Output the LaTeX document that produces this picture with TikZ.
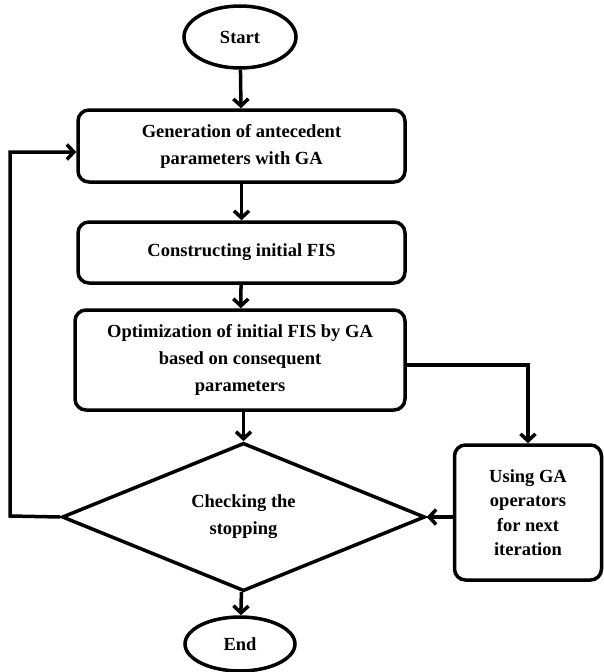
\documentclass[tikz,border=0pt]{standalone}
\usepackage{fontspec}
\setmainfont{Liberation Serif}
\usetikzlibrary{shapes.geometric,arrows.meta}
\begin{document}
\begin{tikzpicture}[x=1pt,y=-1pt,
  every node/.style={font=\fontsize{18.5}{27}\selectfont\bfseries, align=center, inner sep=0pt},
  box/.style={draw, line width=3.5pt, rounded corners=11pt},
  term/.style={draw, line width=3.5pt, ellipse},
  dec/.style={draw, line width=3.5pt, diamond},
  conn/.style={line width=3.5pt, -{Straight Barb[length=7pt,width=15pt,line width=3.5pt]}}]
\useasboundingbox (0,0) rectangle (604,672);
\node[term, minimum width=112pt, minimum height=62pt] (start) at (240,37) {Start};
\node[box, minimum width=327pt, minimum height=72pt] (b1) at (241.5,146) {Generation of antecedent\\parameters with GA};
\node[box, minimum width=327pt, minimum height=61pt] (b2) at (241.5,252.5) {Constructing initial FIS};
\node[box, minimum width=330pt, minimum height=100pt] (b3) at (240,360) {Optimization of initial FIS by GA\\based on consequent\\parameters};
\node[dec, minimum width=363pt, minimum height=145pt] (d) at (243.5,517) {Checking the\\stopping};
\node[term, minimum width=110pt, minimum height=54pt] (end) at (240,644) {End};
\node[box, minimum width=147pt, minimum height=135pt, font=\fontsize{18.5}{24.5}\selectfont\bfseries] (b4) at (528,512.5) {Using GA\\operators\\for next\\iteration};
\coordinate (lc) at (10,516);
\coordinate (tc) at (10,152);
\coordinate (rc) at (528,365);
\draw[conn] (start) -- (b1);
\draw[conn] (b1) -- (b2);
\draw[conn] (b2) -- (b3);
\draw[conn] (b3.south -| d.north) -- (d.north);
\draw[conn] (d) -- (end);
\draw[conn] (b3.east |- rc) -- (rc) -- (b4.north);
\draw[conn] (b4.west |- d.east) -- (d.east);
\draw[conn] (d.west) -- (lc) -- (tc) -- (b1.west |- tc);
\end{tikzpicture}
\end{document}
